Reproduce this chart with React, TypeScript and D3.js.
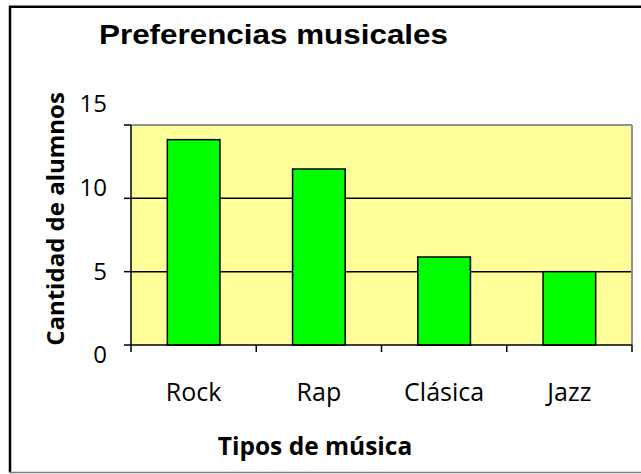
import React from "react";
import * as d3 from "d3";

// Music preference survey: number of students per genre
const categories = ["Rock", "Rap", "Clásica", "Jazz"];
const students = [14, 12, 6, 5];
const yTicks = [0, 5, 10, 15];

const chartTitle = "Preferencias musicales";
const xTitle = "Tipos de música";
const yTitle = "Cantidad de alumnos";

const W = 641;
const H = 474;
const plot = { left: 131, right: 632, top: 125, bottom: 345 };

export default function App() {
  const x = d3
    .scaleBand<string>()
    .domain(categories)
    .range([plot.left, plot.right])
    .paddingInner(0.58)
    .paddingOuter(0.29);
  const band = (plot.right - plot.left) / categories.length;
  const y = d3.scaleLinear().domain([0, 15]).range([plot.bottom, plot.top]);
  // tick labels sit on a slightly wider spread than the gridlines
  const yLabel = d3.scaleLinear().domain([0, 15]).range([355, 104]);

  const sans = "'Open Sans', 'Noto Sans', sans-serif";

  return (
    <svg
      width={W}
      height={H}
      style={{ position: "absolute", left: 0, top: 0, background: "#fff" }}
    >
      {/* chart frame */}
      <line x1={9} x2={W} y1={5.5} y2={5.5} stroke="#808080" strokeWidth={1} />
      <line x1={9} x2={W} y1={7} y2={7} stroke="#000" strokeWidth={2} />
      <line x1={10} x2={10} y1={6} y2={472} stroke="#000" strokeWidth={2.5} />
      <line x1={9} x2={W} y1={472.5} y2={472.5} stroke="#808080" strokeWidth={1.5} />

      <text
        x={273.5}
        y={44}
        textAnchor="middle"
        fontFamily="'Liberation Sans', Arial, sans-serif"
        fontWeight="bold"
        fontSize={28}
        textLength={349}
        lengthAdjust="spacingAndGlyphs"
        fill="#000"
      >
        {chartTitle}
      </text>

      {/* plot area */}
      <rect
        x={plot.left}
        y={plot.top}
        width={plot.right - plot.left}
        height={plot.bottom - plot.top}
        fill="#FFFF99"
      />
      <line x1={plot.left} x2={plot.right} y1={plot.top} y2={plot.top} stroke="#909090" strokeWidth={2} />
      <line x1={plot.right} x2={plot.right} y1={plot.top} y2={plot.bottom} stroke="#909090" strokeWidth={2} />

      {/* gridlines */}
      {yTicks
        .filter((t) => t > 0 && t < 15)
        .map((t) => (
          <line
            key={"g" + t}
            x1={plot.left}
            x2={plot.right - 1}
            y1={y(t)}
            y2={y(t)}
            stroke="#000"
            strokeWidth={1.5}
          />
        ))}

      {/* bars */}
      {categories.map((c, i) => (
        <rect
          key={c}
          x={x(c)}
          y={y(students[i])}
          width={x.bandwidth()}
          height={y(0) - y(students[i])}
          fill="#00FF00"
          stroke="#000"
          strokeWidth={1.5}
        />
      ))}

      {/* axes */}
      <line x1={plot.left} x2={plot.left} y1={plot.top} y2={plot.bottom} stroke="#000" strokeWidth={1.5} />
      <line x1={plot.left} x2={plot.right} y1={plot.bottom} y2={plot.bottom} stroke="#000" strokeWidth={1.5} />
      {yTicks.map((t) => (
        <line key={"yt" + t} x1={plot.left - 7} x2={plot.left} y1={y(t)} y2={y(t)} stroke="#000" strokeWidth={1.5} />
      ))}
      {d3.range(categories.length + 1).map((i) => (
        <line
          key={"xt" + i}
          x1={plot.left + i * band}
          x2={plot.left + i * band}
          y1={plot.bottom}
          y2={plot.bottom + 7}
          stroke="#000"
          strokeWidth={1.5}
        />
      ))}

      {yTicks.map((t) => (
        <text
          key={"yl" + t}
          x={107}
          y={yLabel(t)}
          dy="0.35em"
          textAnchor="end"
          fontFamily={sans}
          fontSize={24}
          fill="#000"
        >
          {t}
        </text>
      ))}

      {categories.map((c) => (
        <text
          key={"xl" + c}
          x={(x(c) ?? 0) + x.bandwidth() / 2}
          y={401}
          textAnchor="middle"
          fontFamily={sans}
          fontSize={25}
          fill="#000"
        >
          {c}
        </text>
      ))}

      <text
        x={315}
        y={455}
        textAnchor="middle"
        fontFamily={sans}
        fontWeight="bold"
        fontSize={24.5}
        fill="#000"
      >
        {xTitle}
      </text>

      <text
        transform="translate(64,219) rotate(-90)"
        textAnchor="middle"
        fontFamily={sans}
        fontWeight="bold"
        fontSize={24}
        fill="#000"
      >
        {yTitle}
      </text>
    </svg>
  );
}
